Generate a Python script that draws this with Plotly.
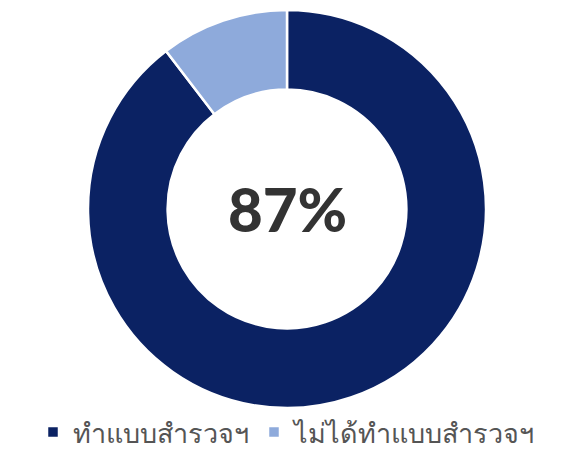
import plotly.graph_objects as go

labels = ["ทำแบบสำรวจฯ", "ไม่ได้ทำแบบสำรวจฯ"]
values = [89.6, 10.4]
colors = ["#0b2263", "#8eaadb"]
center_text = "87%"

fig = go.Figure(go.Pie(
    labels=labels,
    values=values,
    hole=0.6,
    sort=False,
    direction="clockwise",
    rotation=0,
    textinfo="none",
    hoverinfo="label+percent",
    marker=dict(colors=colors, line=dict(color="white", width=2.5)),
))

fig.add_annotation(
    text=center_text, x=0.5, y=0.5, xref="paper", yref="paper",
    showarrow=False,
    font=dict(size=60, color="#333333", family="Lato, Open Sans, sans-serif", weight=900),
)

fig.update_layout(
    width=582, height=457,
    margin=dict(l=0, r=8, t=10, b=45),
    paper_bgcolor="white", plot_bgcolor="white",
    showlegend=True,
    legend=dict(
        orientation="h", x=0.5, xanchor="center", y=-0.062, yanchor="middle",
        font=dict(size=27, color="#555555", family="Noto Sans, sans-serif"),
        itemwidth=30, tracegroupgap=0,
    ),
)

fig.write_html("out.html")
